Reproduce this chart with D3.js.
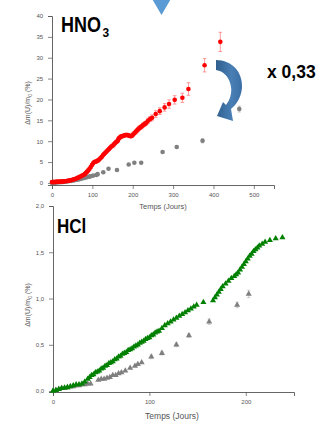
<!DOCTYPE html>
<html><head><meta charset="utf-8">
<script src="https://cdn.jsdelivr.net/npm/d3@7/dist/d3.min.js"></script>
<style>html,body{margin:0;padding:0;background:#fff;}svg{display:block;}</style>
</head><body>
<script>
// ---------- DATA ----------
// HNO3 panel : red (day, value, error)
const hno3RedDays = [0,3,6,9,12,15,18,21,24,27,30,33,36,39,42,45,48,51,54,57,60,63,66,69,72,75,78,81,84,87,90,93,96,99,102,105,108,111,114,117,120,123,126,129,132,135,138,141,144,147,150,153,156,159,162,164,166,168,171,174,177,180,183,186,189,192,195,198,201,204,207,210,213,216,219,222,225,228,231,234,238,243,248,257,267,279,290,304,323,338,378,417];
const hno3RedVals = [0.2,0.2,0.25,0.2,0.3,0.25,0.3,0.3,0.35,0.3,0.4,0.4,0.45,0.5,0.55,0.6,0.7,0.75,0.85,0.95,1.05,1.2,1.3,1.45,1.6,1.75,1.9,2.1,2.4,2.7,3.0,3.4,3.8,4.3,4.7,5.0,5.1,5.2,5.4,5.6,5.9,6.2,6.6,6.9,7.2,7.5,7.8,8.1,8.4,8.7,8.9,9.2,9.5,9.8,10.0,10.4,10.7,10.9,11.1,11.2,11.3,11.4,11.5,11.5,11.4,11.3,11.2,11.3,11.6,11.9,12.2,12.5,12.8,13.1,13.3,13.5,13.8,14.0,14.2,14.4,14.9,15.3,15.6,16.5,17.2,18.1,18.9,19.9,20.4,22.5,28.2,33.8];
const hno3RedErrs = [0.2,0.2,0.2,0.2,0.2,0.2,0.2,0.2,0.2,0.2,0.2,0.2,0.2,0.2,0.2,0.2,0.2,0.2,0.2,0.2,0.2,0.2,0.2,0.2,0.2,0.3,0.3,0.3,0.3,0.3,0.3,0.3,0.3,0.3,0.3,0.3,0.3,0.3,0.3,0.3,0.3,0.3,0.3,0.3,0.3,0.3,0.3,0.3,0.3,0.3,0.4,0.4,0.4,0.4,0.4,0.4,0.4,0.4,0.4,0.4,0.4,0.4,0.4,0.4,0.4,0.4,0.4,0.4,0.4,0.4,0.5,0.5,0.5,0.5,0.5,0.5,0.5,0.5,0.5,0.5,0.6,0.6,0.7,0.8,0.8,0.9,1.0,1.0,1.1,1.5,1.6,2.3];
// HNO3 panel : grey circles
const hno3GreyDays = [0,4,8,12,16,20,24,28,32,36,40,44,48,52,56,60,64,68,72,76,80,84,88,92,96,102,110,113,127,140,161,190,204,221,274,309,373,464];
const hno3GreyVals = [0.0,0.05,0.1,0.1,0.15,0.2,0.2,0.25,0.3,0.35,0.4,0.45,0.5,0.6,0.65,0.75,0.8,0.9,1.0,1.1,1.2,1.3,1.4,1.5,1.6,1.75,1.9,2.1,2.55,3.4,3.1,4.4,4.85,4.85,7.4,8.6,10.1,17.7];
const hno3GreyErrs = [0,0,0,0,0,0,0,0,0,0,0,0,0,0,0,0,0,0,0,0,0,0,0,0,0,0,0,0,0,0,0,0,0,0,0.3,0.3,0.5,0.7];

// HCl panel : green triangles
const hclGreenDays = [0,3,6,9,12,15,18,21,24,27,30,33,36,38,40,42,44,46,48,50,52,54,56,58,60,62,64,66,68,70,72,74,76,78,80,82,84,86,88,90,92,94,96,98,100,102,104,106,108,110,113,116,119,122,125,128,131,134,137,140,143,146,149,156,166,168,170,172,174,176,179,182,185,188,190,192,194,196,198,200,202,204,206,208,210,212,214,217,220,225,231,238];
const hclGreenVals = [0.0,0.01,0.02,0.03,0.035,0.04,0.05,0.06,0.07,0.07,0.08,0.1,0.13,0.15,0.17,0.18,0.2,0.21,0.22,0.24,0.25,0.27,0.28,0.3,0.31,0.32,0.34,0.35,0.37,0.38,0.4,0.41,0.42,0.44,0.45,0.46,0.48,0.49,0.5,0.52,0.53,0.54,0.56,0.57,0.58,0.6,0.61,0.63,0.64,0.65,0.68,0.71,0.73,0.75,0.77,0.79,0.81,0.83,0.85,0.87,0.89,0.91,0.93,0.96,0.98,1.01,1.04,1.07,1.10,1.13,1.16,1.19,1.22,1.24,1.26,1.28,1.31,1.34,1.37,1.40,1.43,1.46,1.48,1.51,1.53,1.55,1.57,1.59,1.61,1.63,1.65,1.66];
// HCl panel : grey triangles
const hclGreyDays = [0,3,6,9,12,15,18,21,24,27,30,33,36,39,47,50,53,56,59,62,65,68,71,75,80,85,88,92,102,113,128,141,162,191,203];
const hclGreyVals = [0.0,0.01,0.02,0.03,0.03,0.04,0.05,0.05,0.06,0.06,0.07,0.07,0.08,0.08,0.12,0.13,0.13,0.14,0.15,0.17,0.17,0.19,0.2,0.22,0.25,0.27,0.29,0.31,0.37,0.41,0.50,0.60,0.75,0.93,1.05];
const hclGreyErrs = [0,0,0,0,0,0,0,0,0,0,0,0,0,0,0,0,0,0,0,0,0,0,0,0,0,0,0,0,0.02,0.02,0.02,0.02,0.03,0.03,0.04];

// ticks
const topXTicks = [0,100,200,300,400,500];
const topXMinor = [50,150,250,350,450,550];
const topYTicks = [0,5,10,15,20,25,30,35,40];
const topYMinor = [2.5,7.5,12.5,17.5,22.5,27.5,32.5,37.5];
const botXTicks = [0,100,200];
const botXMinor = [50,150,250];
const botYTicks = [0,0.5,1.0,1.5,2.0];
const botYMinor = [0.25,0.75,1.25,1.75];

// ---------- DRAW ----------
const W = 327, H = 435;
const svg = d3.select("body").append("svg").attr("width", W).attr("height", H);
const FONT = "'Liberation Sans', Arial, sans-serif";
const axisCol = "#555";

function zip(d, v, e) { return d.map((x, i) => ({x, y: v[i], e: e ? e[i] : 0})); }

function drawAxes(x, y, xt, xm, yt, ym, fmtY) {
  const gx = svg.append("g").attr("transform", `translate(0,${y.range()[0]})`);
  gx.call(d3.axisBottom(x).tickValues(xm).tickSize(2).tickFormat(""));
  gx.call(d3.axisBottom(x).tickValues(xt).tickSize(4).tickFormat(d3.format("d")));
  const gy = svg.append("g").attr("transform", `translate(${x.range()[0]},0)`);
  gy.call(d3.axisLeft(y).tickValues(ym).tickSize(2).tickFormat(""));
  gy.call(d3.axisLeft(y).tickValues(yt).tickSize(4).tickFormat(fmtY));
  [gx, gy].forEach(g => {
    g.selectAll("path.domain").attr("stroke", axisCol).attr("stroke-width", 0.9);
    g.selectAll("line").attr("stroke", axisCol).attr("stroke-width", 0.7);
    g.selectAll("text").attr("font-family", FONT).attr("font-size", 6).attr("fill", "#555");
  });
  gx.selectAll("text").attr("dy", "0.9em");
  gy.selectAll("text").attr("dx", "-0.3em");
}

function yLabel(cx, cy) {
  const t = svg.append("text").attr("transform", `translate(${cx},${cy}) rotate(-90)`)
    .attr("text-anchor", "middle").attr("font-family", FONT).attr("font-size", 7).attr("fill", "#555");
  t.append("tspan").text("\u0394m(U)/m");
  t.append("tspan").attr("font-size", 5).attr("dy", 2).text("0");
  t.append("tspan").attr("dy", -2).text(" (%)");
}

function errBars(data, x, y, col, cap) {
  const g = svg.append("g").attr("stroke", col).attr("stroke-width", 0.7).attr("fill", "none");
  data.filter(d => d.e > 0).forEach(d => {
    const px = x(d.x), y1 = y(d.y - d.e), y2 = y(d.y + d.e);
    g.append("line").attr("x1", px).attr("x2", px).attr("y1", y1).attr("y2", y2);
    g.append("line").attr("x1", px - cap).attr("x2", px + cap).attr("y1", y1).attr("y2", y1);
    g.append("line").attr("x1", px - cap).attr("x2", px + cap).attr("y1", y2).attr("y2", y2);
  });
}

// ---- top panel (HNO3)
const x1 = d3.scaleLinear().domain([0, 550]).range([52, 274]);
const y1 = d3.scaleLinear().domain([-0.5, 40]).range([185, 16]);
drawAxes(x1, y1, topXTicks, topXMinor, topYTicks, topYMinor, d3.format("d"));
yLabel(30, 103);
svg.append("text").attr("x", 163).attr("y", 209).attr("text-anchor", "middle")
  .attr("font-family", FONT).attr("font-size", 7.5).attr("fill", "#555").text("Temps (Jours)");

const greyTop = zip(hno3GreyDays, hno3GreyVals, hno3GreyErrs);
errBars(greyTop, x1, y1, "#aaa", 1.6);
svg.append("g").selectAll("circle").data(greyTop).join("circle")
  .attr("cx", d => x1(d.x)).attr("cy", d => y1(d.y)).attr("r", 2.3).attr("fill", "#808080");

const redTop = zip(hno3RedDays, hno3RedVals, hno3RedErrs);
errBars(redTop, x1, y1, "#ff7070", 1.8);
svg.append("g").selectAll("circle").data(redTop).join("circle")
  .attr("cx", d => x1(d.x)).attr("cy", d => y1(d.y)).attr("r", 2.3).attr("fill", "#ff0000");

// ---- bottom panel (HCl)
const x2 = d3.scaleLinear().domain([0, 250]).range([53, 294]);
const y2 = d3.scaleLinear().domain([-0.01, 2]).range([392, 206]);
drawAxes(x2, y2, botXTicks, botXMinor, botYTicks, botYMinor, d => d3.format(".1f")(d).replace(".", ","));
yLabel(30, 305);
svg.append("text").attr("x", 172).attr("y", 419).attr("text-anchor", "middle")
  .attr("font-family", FONT).attr("font-size", 8.5).attr("fill", "#555").text("Temps (Jours)");

const tri = d3.symbol().type(d3.symbolTriangle).size(16);
const greyBot = zip(hclGreyDays, hclGreyVals, hclGreyErrs);
errBars(greyBot, x2, y2, "#bbb", 1.6);
svg.append("g").selectAll("path").data(greyBot).join("path")
  .attr("d", tri).attr("transform", d => `translate(${x2(d.x)},${y2(d.y)})`).attr("fill", "#7f7f7f");
const greenBot = zip(hclGreenDays, hclGreenVals, null);
svg.append("g").selectAll("path").data(greenBot).join("path")
  .attr("d", tri).attr("transform", d => `translate(${x2(d.x)},${y2(d.y)})`).attr("fill", "#008000");

// ---- titles & annotations
function boldText(x, y, size, sy) {
  return svg.append("text").attr("transform", `translate(${x},${y}) scale(1,${sy || 1})`)
    .attr("font-family", FONT).attr("font-weight", "bold").attr("font-size", size).attr("fill", "#000");
}
boldText(61, 32, 18, 1.2).text("HNO");
boldText(102.5, 36.5, 12, 1.1).text("3");
boldText(57, 233, 17, 1.15).text("HCl");
boldText(267, 78, 17.5, 1.0).text("x 0,33");

const defs = svg.append("defs");
const grad = defs.append("linearGradient").attr("id", "arrowGrad").attr("x1", 0).attr("y1", 0).attr("x2", 1).attr("y2", 0);
grad.append("stop").attr("offset", "0%").attr("stop-color", "#2f5f8e");
grad.append("stop").attr("offset", "60%").attr("stop-color", "#4a7fb5");
grad.append("stop").attr("offset", "100%").attr("stop-color", "#3a6ea5");
// down triangle at top
svg.append("path").attr("d", "M151,-3 L172,-3 L161.5,15 Z").attr("fill", "#5b9bd5");
// curved arrow
svg.append("path")
  .attr("d", "M216,60 C232,60 243,72 242,88 C241,98 236,105 231,109 L233,121 L217,116 L223,102 L226,105 C230,100 232,93 231,87 C230,78 224,71 216,70 Z")
  .attr("fill", "url(#arrowGrad)");
</script>
</body></html>
